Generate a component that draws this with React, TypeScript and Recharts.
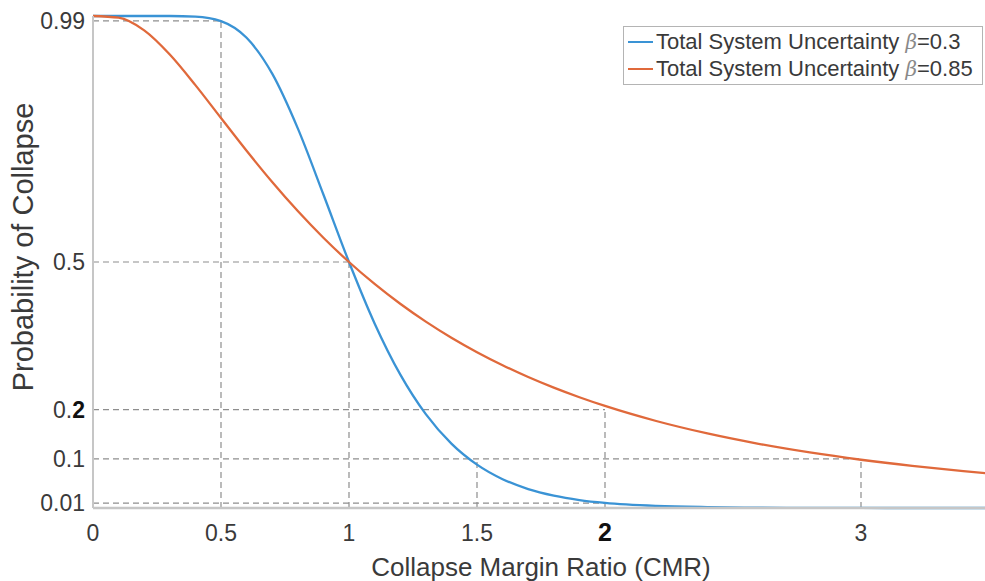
import { Label, Legend, Line, LineChart, ReferenceLine, XAxis, YAxis } from "recharts";

// collapse margin ratio (x) and probability of collapse
const cmr = [0, 0.1, 0.2, 0.3, 0.4, 0.5, 0.6, 0.7, 0.8, 0.9, 1.0, 1.1, 1.2, 1.3, 1.4, 1.5, 1.6, 1.7, 1.8, 1.9, 2.0, 2.2, 2.4, 2.6, 2.8, 3.0, 3.2, 3.4, 3.5];
const beta030 = [1, 1, 1, 1, 0.9989, 0.9896, 0.9557, 0.8828, 0.7716, 0.6372, 0.5, 0.3752, 0.2716, 0.1908, 0.1309, 0.0882, 0.0586, 0.0384, 0.0251, 0.0162, 0.0104, 0.0043, 0.0018, 0.0007, 0.0003, 0.0001, 0, 0, 0];
const beta085 = [1, 0.9966, 0.9708, 0.9217, 0.8595, 0.7926, 0.7261, 0.6626, 0.6035, 0.5493, 0.5, 0.4554, 0.4151, 0.3788, 0.3461, 0.3167, 0.2902, 0.2662, 0.2446, 0.2251, 0.2074, 0.1768, 0.1515, 0.1305, 0.1129, 0.0981, 0.0856, 0.075, 0.0703];

const xTicks = [0, 0.5, 1, 1.5, 2, 3];
const yTicks = [0.01, 0.1, 0.2, 0.5, 0.99];

// dashed guide lines: [x, y] corner points, drawn to both axes
const guides = [
  [0.5, 0.99],
  [1, 0.5],
  [2, 0.2],
  [3, 0.1],
];

const BLUE = "#3a93d5";
const ORANGE = "#e0693b";
const GRID = "#8e8e8e";
const TEXT = "#3a3a3a";
const FONT = "'Liberation Sans', Arial, sans-serif";

const data = cmr.map((x, i) => ({ cmr: x, low: beta030[i], high: beta085[i] }));

function XTick({ x, y, payload }: any) {
  const bold = payload.value === 2;
  return (
    <text x={x} y={y + 25} textAnchor="middle" fontFamily={FONT} fontSize={bold ? 25 : 23} fontWeight={bold ? "bold" : "normal"} fill={bold ? "#111" : TEXT}>
      {payload.value}
    </text>
  );
}

function YTick({ y, payload }: any) {
  const v = payload.value;
  return (
    <text x={85} y={y + 8} textAnchor="end" fontFamily={FONT} fontSize={23} fill={TEXT}>
      {v === 0.2 ? (
        <>
          <tspan>0.</tspan>
          <tspan fontWeight="bold" fill="#111">2</tspan>
        </>
      ) : (
        v
      )}
    </text>
  );
}

function YTitle() {
  return (
    <text x={23} y={247} transform="rotate(-90 23 247)" textAnchor="middle" dominantBaseline="central" fontFamily={FONT} fontSize={29} fill={TEXT}>
      Probability of Collapse
    </text>
  );
}

function LegendBox() {
  const rows = [
    { color: BLUE, beta: "0.3" },
    { color: ORANGE, beta: "0.85" },
  ];
  return (
    <div style={{ border: "1.5px solid #b4b4b4", background: "#fff", width: 354, padding: "1px 0 2px 4px", fontFamily: FONT, fontSize: 22, color: TEXT }}>
      {rows.map((r) => (
        <div key={r.beta} style={{ display: "flex", alignItems: "center", height: 27 }}>
          <span style={{ display: "inline-block", width: 25, height: 2, background: r.color, marginRight: 3 }} />
          <span>
            Total System Uncertainty{" "}
            <span style={{ fontFamily: "'DejaVu Serif', serif", fontStyle: "italic", color: "#8a8a8a", fontSize: 20 }}>β</span>=
            {r.beta}
          </span>
        </div>
      ))}
    </div>
  );
}

export default function App() {
  return (
    <div style={{ position: "absolute", left: 0, top: 0, width: 985, height: 581, overflow: "hidden", background: "#fff" }}>
      <LineChart width={990} height={581} data={data} margin={{ top: 16, right: 1, left: 8, bottom: 0 }}>
        <XAxis
          dataKey="cmr"
          type="number"
          domain={[0, 3.5]}
          ticks={xTicks}
          allowDataOverflow
          height={73}
          tickLine={false}
          axisLine={{ stroke: "#c6c6c6", strokeWidth: 2.5 }}
          tick={<XTick />}
          interval={0}
        >
          <Label value="Collapse Margin Ratio (CMR)" position="insideBottom" offset={5} style={{ fontFamily: FONT, fontSize: 26, fill: TEXT }} />
        </XAxis>
        <YAxis
          type="number"
          domain={[0, 1]}
          ticks={yTicks}
          width={85}
          tickLine={false}
          axisLine={{ stroke: "#c6c6c6", strokeWidth: 2 }}
          tick={<YTick />}
          interval={0}
        >
          <Label content={<YTitle />} />
        </YAxis>
        {guides.map(([gx, gy]) => (
          <ReferenceLine key={`h${gx}`} segment={[{ x: 0, y: gy }, { x: gx, y: gy }]} stroke={GRID} strokeDasharray="6 4" strokeWidth={1.2} />
        ))}
        {guides.map(([gx, gy]) => (
          <ReferenceLine key={`v${gx}`} segment={[{ x: gx, y: 0 }, { x: gx, y: gy }]} stroke={GRID} strokeDasharray="6 4" strokeWidth={1.2} />
        ))}
        <ReferenceLine segment={[{ x: 1.5, y: 0 }, { x: 1.5, y: 0.1 }]} stroke={GRID} strokeDasharray="6 4" strokeWidth={1.2} />
        <ReferenceLine segment={[{ x: 0, y: 0.01 }, { x: 2, y: 0.01 }]} stroke={GRID} strokeDasharray="6 4" strokeWidth={1.2} />
        <Line type="monotone" dataKey="low" name="β=0.3" stroke={BLUE} strokeWidth={2.3} dot={false} isAnimationActive={false} />
        <Line type="monotone" dataKey="high" name="β=0.85" stroke={ORANGE} strokeWidth={2.3} dot={false} isAnimationActive={false} />
        <Legend
          layout="vertical"
          align="center"
          verticalAlign="middle"
          content={<LegendBox />}
          wrapperStyle={{ top: 26, left: 623, width: 360 }}
        />
      </LineChart>
    </div>
  );
}
